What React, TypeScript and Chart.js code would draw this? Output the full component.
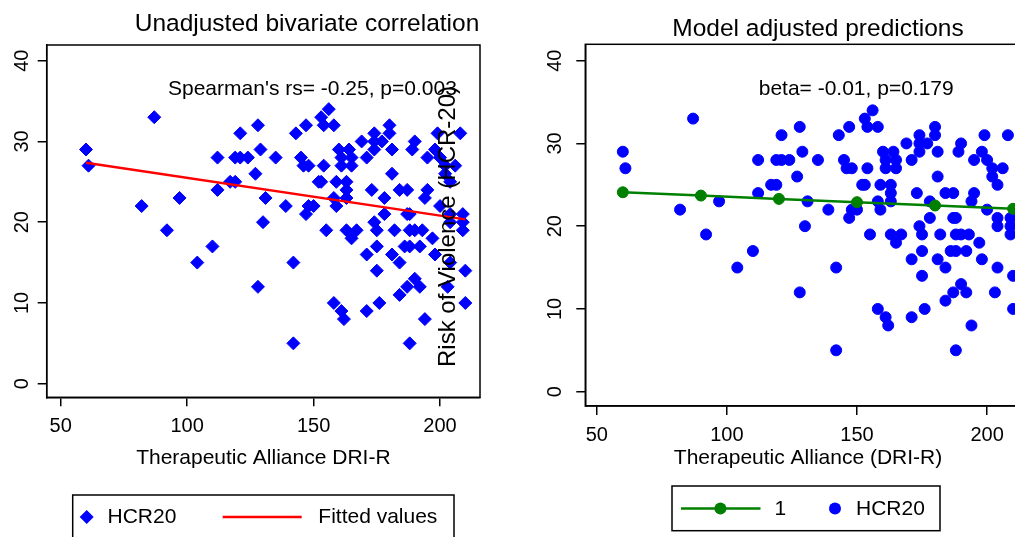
import React, { useEffect, useRef } from 'react';
import { Chart, registerables } from 'chart.js';

Chart.register(...registerables);

const FONT = "'Liberation Sans', Arial, Helvetica, sans-serif";
Chart.defaults.font.family = FONT;
Chart.defaults.color = '#000';

// Therapeutic Alliance (DRI-R) score of each patient
const allianceDRI = [
  60, 61, 82, 87, 92, 97, 104, 110, 112, 112,
  117, 119, 119, 121, 124, 121, 127, 128, 128, 129,
  130, 131, 135, 139, 142, 142, 143, 145, 146, 148,
  147, 147, 148, 150, 152, 153, 153, 154, 156, 158,
  154, 155, 158, 159, 159, 163, 163, 163, 160, 164,
  161, 165, 161, 165, 163, 167, 165, 158, 161, 162,
  171, 176, 171, 175, 175, 173, 169, 171, 174, 174,
  177, 174, 180, 180, 181, 181, 178, 178, 174, 175,
  182, 181, 184, 184, 187, 190, 192, 188, 184, 187,
  187, 188, 188, 193, 186, 188, 192, 197, 198, 194,
  203, 204, 210, 210, 195, 194, 200, 204, 204, 209,
  209, 209, 195, 198, 200, 202, 202, 204, 206, 189,
  190, 199, 208, 190,
];
// Risk of Violence (HCR-20) score of each patient
const riskHCR20 = [
  29, 27, 22, 33, 19, 23, 15, 17, 28, 24,
  25, 25, 28, 28, 28, 31, 26, 32, 12, 29,
  20, 23, 28, 22, 15, 5, 31, 28, 27, 27,
  32, 21, 22, 22, 25, 25, 33, 32, 34, 32,
  27, 19, 23, 22, 25, 25, 24, 23, 29, 29,
  28, 28, 27, 27, 19, 19, 18, 10, 9, 8,
  9, 10, 16, 17, 14, 24, 30, 28, 31, 30,
  30, 29, 32, 31, 29, 26, 23, 21, 20, 19,
  19, 16, 15, 11, 12, 13, 12, 5, 24, 24,
  21, 21, 19, 19, 17, 17, 17, 18, 16, 8,
  12, 15, 14, 10, 24, 23, 22, 21, 20, 21,
  20, 19, 28, 29, 28, 27, 26, 25, 27, 29,
  30, 31, 31, 19,
];

// Linear fit (left panel)
const fittedX = [60, 210];
const fittedY = [27.35, 20.35];

// Model adjusted predictions (right panel)
const predX = [60, 90, 120, 150, 180, 210];
const predY = [24.1, 23.7, 23.3, 22.9, 22.5, 22.1];

const xTickValues = [50, 100, 150, 200];
const yTickValues = [0, 10, 20, 30, 40];

const leftTitle = 'Unadjusted bivariate correlation';
const rightTitle = 'Model adjusted predictions';
const leftNote = "Spearman's rs= -0.25, p=0.003";
const rightNote = 'beta= -0.01, p=0.179';
const leftXTitle = 'Therapeutic Alliance DRI-R';
const rightXTitle = 'Therapeutic Alliance (DRI-R)';
const rightYTitle = 'Risk of Violence (HCR-20)';

const BLUE = '#0000ff';
const RED = '#ff0000';
const GREEN = '#008000';

type ScaleOpts = {
  xMin: number; xMax: number; yMin: number; yMax: number;
  yWidth: number; yPad: number; xHeight: number; xPad: number;
  xTitle: string; xTitlePadBottom: number;
};

function buildScales(o: ScaleOpts) {
  const grid = {
    display: true, drawOnChartArea: false, drawTicks: true, tickLength: 9,
    tickWidth: 1.5, tickColor: '#000', color: '#000', lineWidth: 1.5,
  };
  const border = { display: true, color: '#000', width: 1.5 };
  return {
    x: {
      type: 'linear', min: o.xMin, max: o.xMax,
      afterBuildTicks: (s: any) => { s.ticks = xTickValues.map((v) => ({ value: v })); },
      afterFit: (s: any) => { s.height = o.xHeight; },
      ticks: { color: '#000', font: { size: 20 }, padding: o.xPad, minRotation: 0, maxRotation: 0, autoSkip: false },
      grid, border,
      title: { display: true, text: o.xTitle, color: '#000', font: { size: 21 }, padding: { top: 0, bottom: o.xTitlePadBottom } },
    },
    y: {
      type: 'linear', min: o.yMin, max: o.yMax,
      afterBuildTicks: (s: any) => { s.ticks = yTickValues.map((v) => ({ value: v })); },
      afterFit: (s: any) => { s.width = o.yWidth; },
      ticks: { color: '#000', font: { size: 20 }, padding: o.yPad, minRotation: 90, maxRotation: 90, crossAlign: 'center', autoSkip: false },
      grid, border,
    },
  };
}

type LegendItem = { ds: number; kind: 'diamond' | 'line' | 'dot' | 'linedot'; sx: number; x1?: number; x2?: number; tx: number };
type Decor = {
  title: string; titleX: number; titleY: number;
  note: string; noteX: number; noteY: number;
  rot?: { text: string; x: number; y: number };
  legendBox: [number, number, number, number];
  legendY: number; legendTextY: number;
  items: LegendItem[];
};

function decorPlugin(d: Decor) {
  return {
    id: 'stataDecor',
    afterDraw(chart: any) {
      const { ctx, chartArea: a } = chart;
      ctx.save();
      ctx.strokeStyle = '#000';
      ctx.lineWidth = 1.5;
      ctx.strokeRect(a.left, a.top, a.right - a.left, a.bottom - a.top);

      ctx.fillStyle = '#000';
      ctx.textBaseline = 'alphabetic';
      ctx.font = `24.5px ${FONT}`;
      ctx.textAlign = 'center';
      ctx.fillText(d.title, d.titleX, d.titleY);

      ctx.font = `21px ${FONT}`;
      ctx.textAlign = 'left';
      ctx.fillText(d.note, d.noteX, d.noteY);

      if (d.rot) {
        ctx.save();
        ctx.translate(d.rot.x, d.rot.y);
        ctx.rotate(-Math.PI / 2);
        ctx.font = `24px ${FONT}`;
        ctx.textAlign = 'left';
        ctx.textBaseline = 'alphabetic';
        ctx.fillText(d.rot.text, 0, 0);
        ctx.restore();
      }

      // legend box
      const [bx, by, bw, bh] = d.legendBox;
      ctx.strokeStyle = '#000';
      ctx.lineWidth = 1.5;
      ctx.strokeRect(bx, by, bw, bh);
      for (const it of d.items) {
        const ds = chart.data.datasets[it.ds];
        const y = d.legendY;
        if (it.kind === 'line' || it.kind === 'linedot') {
          ctx.strokeStyle = ds.borderColor;
          ctx.lineWidth = ds.borderWidth;
          ctx.beginPath();
          ctx.moveTo(it.x1!, y);
          ctx.lineTo(it.x2!, y);
          ctx.stroke();
        }
        if (it.kind === 'linedot' || it.kind === 'dot') {
          ctx.fillStyle = ds.pointBackgroundColor;
          ctx.beginPath();
          ctx.arc(it.sx, y, 6, 0, Math.PI * 2);
          ctx.fill();
        }
        if (it.kind === 'diamond') {
          const r = 7;
          ctx.fillStyle = ds.pointBackgroundColor;
          ctx.beginPath();
          ctx.moveTo(it.sx - r, y);
          ctx.lineTo(it.sx, y - r);
          ctx.lineTo(it.sx + r, y);
          ctx.lineTo(it.sx, y + r);
          ctx.closePath();
          ctx.fill();
        }
        ctx.fillStyle = '#000';
        ctx.font = `21px ${FONT}`;
        ctx.textAlign = 'left';
        ctx.textBaseline = 'middle';
        ctx.fillText(ds.label, it.tx, d.legendTextY);
      }
      ctx.restore();
    },
  };
}

export default function App() {
  const leftRef = useRef<HTMLCanvasElement>(null);
  const rightRef = useRef<HTMLCanvasElement>(null);

  useEffect(() => {
    const pts = allianceDRI.map((x, i) => ({ x, y: riskHCR20[i] }));

    const left = new Chart(leftRef.current as HTMLCanvasElement, {
      type: 'scatter',
      data: {
        datasets: [
          {
            label: 'Fitted values',
            data: fittedX.map((x, i) => ({ x, y: fittedY[i] })),
            showLine: true, borderColor: RED, backgroundColor: RED, borderWidth: 2.5,
            pointRadius: 0, pointBackgroundColor: RED,
          },
          {
            label: 'HCR20',
            data: pts,
            pointStyle: 'rectRot', pointRadius: 6.5, pointBorderWidth: 1,
            backgroundColor: BLUE, borderColor: BLUE,
            pointBackgroundColor: BLUE, pointBorderColor: BLUE,
          },
        ],
      },
      options: {
        responsive: false,
        animation: false,
        events: [],
        layout: { padding: { left: 0, top: 45, right: 20, bottom: 0 } },
        plugins: { legend: { display: false }, tooltip: { enabled: false } },
        scales: buildScales({
          xMin: 44.46, xMax: 215.8, yMin: -1.68, yMax: 41.94,
          yWidth: 46.7, yPad: 3.6, xHeight: 139.7, xPad: 8.4,
          xTitle: leftXTitle, xTitlePadBottom: 65.9,
        }) as any,
      },
      plugins: [decorPlugin({
        title: leftTitle, titleX: 307, titleY: 30.7,
        note: leftNote, noteX: 168, noteY: 95,
        rot: { text: rightYTitle, x: 455, y: 367 },
        legendBox: [72.7, 495, 381.3, 60],
        legendY: 517, legendTextY: 517.5,
        items: [
          { ds: 1, kind: 'diamond', sx: 86.7, tx: 107.5 },
          { ds: 0, kind: 'line', sx: 0, x1: 222.7, x2: 301.7, tx: 318.3 },
        ],
      })],
    } as any);

    const right = new Chart(rightRef.current as HTMLCanvasElement, {
      type: 'scatter',
      data: {
        datasets: [
          {
            label: '1',
            data: predX.map((x, i) => ({ x, y: predY[i] })),
            showLine: true, borderColor: GREEN, backgroundColor: GREEN, borderWidth: 2.5,
            pointRadius: 5.5, pointBorderWidth: 1, pointStyle: 'circle',
            pointBackgroundColor: GREEN, pointBorderColor: GREEN,
          },
          {
            label: 'HCR20',
            data: pts,
            pointStyle: 'circle', pointRadius: 5.5, pointBorderWidth: 1,
            backgroundColor: BLUE, borderColor: BLUE,
            pointBackgroundColor: BLUE, pointBorderColor: BLUE,
          },
        ],
      },
      options: {
        responsive: false,
        animation: false,
        events: [],
        layout: { padding: { left: 0, top: 44.3, right: 29.2, bottom: 0 } },
        plugins: { legend: { display: false }, tooltip: { enabled: false } },
        scales: buildScales({
          xMin: 45.58, xMax: 216.8, yMin: -1.73, yMax: 41.98,
          yWidth: 85.3, yPad: 10, xHeight: 131, xPad: 8,
          xTitle: rightXTitle, xTitlePadBottom: 66.4,
        }) as any,
      },
      plugins: [decorPlugin({
        title: rightTitle, titleX: 318, titleY: 36,
        note: rightNote, noteX: 258.7, noteY: 95,
        legendBox: [172, 486, 268, 44.7],
        legendY: 508.5, legendTextY: 509.5,
        items: [
          { ds: 0, kind: 'linedot', sx: 220.4, x1: 181, x2: 260.5, tx: 274.4 },
          { ds: 1, kind: 'dot', sx: 335, tx: 356 },
        ],
      })],
    } as any);

    return () => {
      left.destroy();
      right.destroy();
    };
  }, []);

  return (
    <div style={{ position: 'absolute', left: 0, top: 0, width: 1015, height: 537, overflow: 'hidden', background: '#fff' }}>
      <canvas ref={leftRef} width={500} height={537} style={{ position: 'absolute', left: 0, top: 0 }} />
      <canvas ref={rightRef} width={560} height={537} style={{ position: 'absolute', left: 500, top: 0 }} />
    </div>
  );
}
